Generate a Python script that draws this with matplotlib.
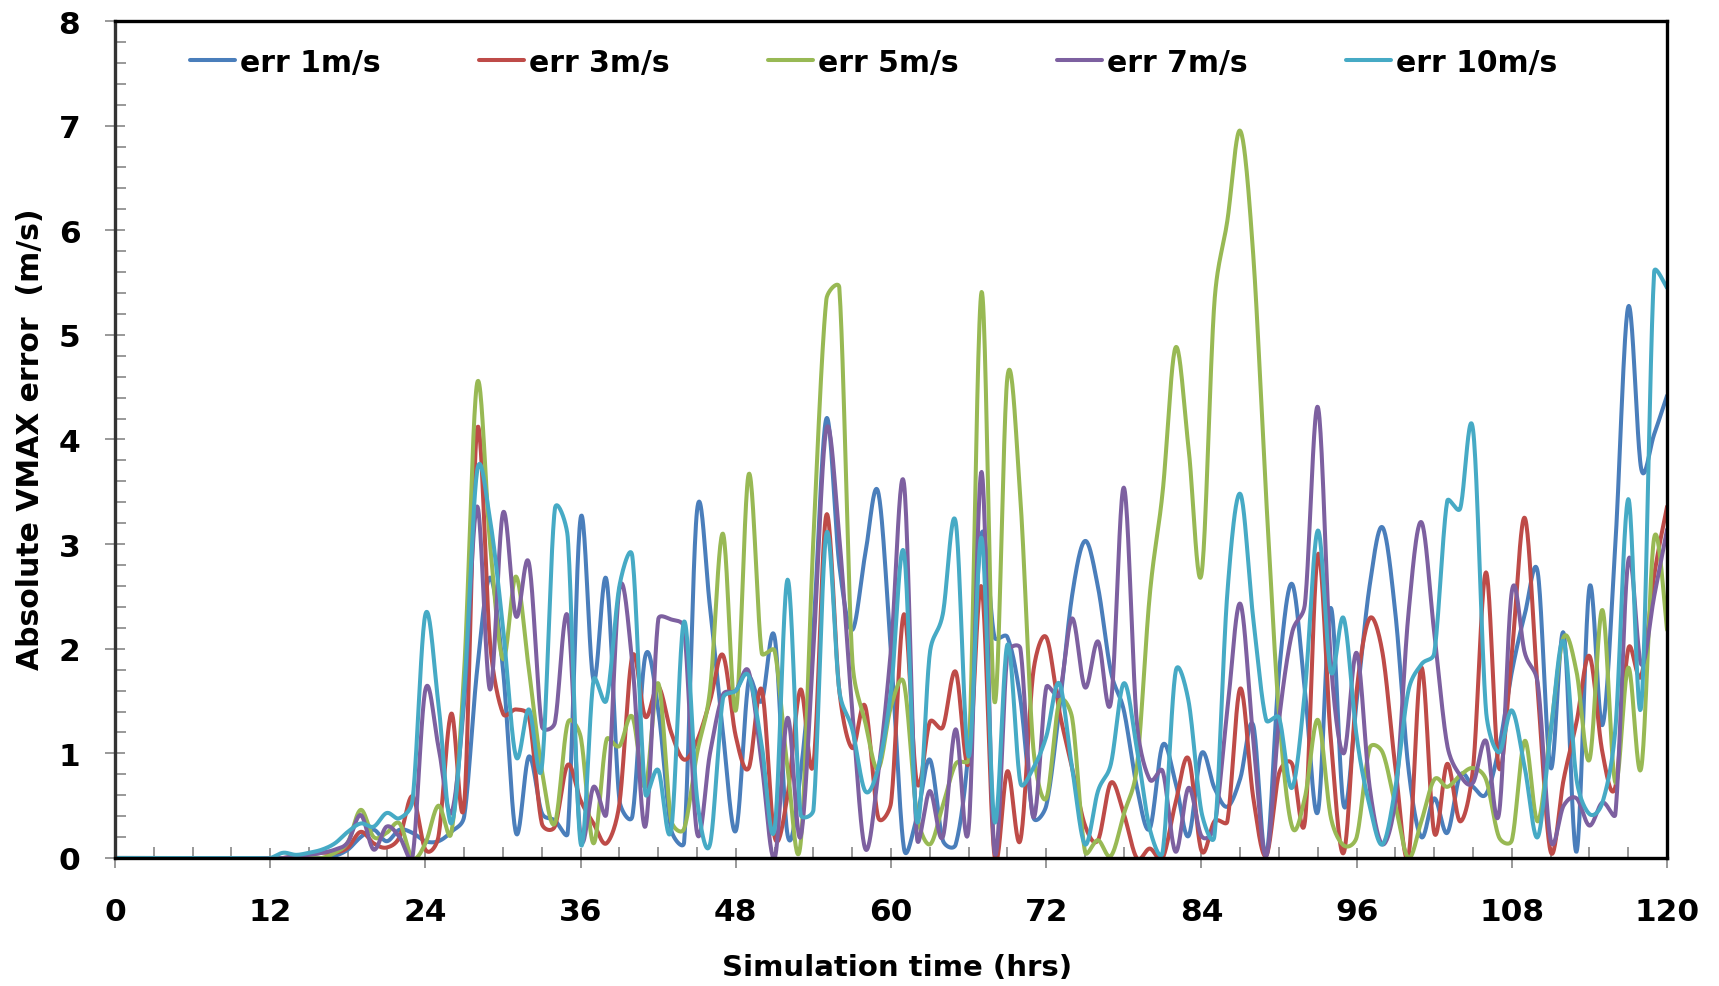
import matplotlib
matplotlib.use("Agg")
import matplotlib.pyplot as plt
import numpy as np
from matplotlib.ticker import MultipleLocator

plt.rcParams["font.family"] = ["DejaVu Sans"]
plt.rcParams["font.weight"] = "bold"

# simulation hours (x categories)
HOURS = np.arange(0, 121)

# absolute VMAX error (m/s), read hour by hour from the figure
ERR_1 = [
    0, 0, 0, 0, 0, 0, 0, 0, 0, 0,
    0, 0, 0, 0, 0, 0, 0, 0.02, 0.08, 0.2,
    0.27, 0.16, 0.27, 0.24, 0.16, 0.16, 0.25, 0.4, 1.8, 2.68,
    1.8, 0.24, 0.97, 0.43, 0.36, 0.24, 3.25, 1.7, 2.66, 0.55,
    0.4, 1.93, 1.42, 0.27, 0.15, 3.32, 2.4, 1.2, 0.26, 1.7,
    1.5, 2.11, 0.22, 0.8, 2.2, 4.2, 2.8, 2.18, 2.9, 3.5,
    1.96, 0.09, 0.39, 0.94, 0.17, 0.13, 1.05, 3.1, 2.11, 2.11,
    1.52, 0.39, 0.5, 1.41, 2.51, 3.03, 2.59, 1.78, 1.41, 0.68,
    0.28, 1.08, 0.72, 0.21, 1.0, 0.67, 0.49, 0.76, 1.27, 0.02,
    1.78, 2.62, 1.6, 0.44, 2.39, 0.5, 1.5, 2.6, 3.16, 2.33,
    0.86, 0.2, 0.57, 0.24, 0.79, 0.68, 0.61, 1.05, 1.78, 2.33,
    2.73, 0.86, 2.15, 0.06, 2.59, 1.27, 3.0, 5.27, 3.72, 4.05,
    4.42,
]
ERR_3 = [
    0, 0, 0, 0, 0, 0, 0, 0, 0, 0,
    0, 0, 0, 0, 0.02, 0.03, 0.05, 0.05, 0.1, 0.25,
    0.14, 0.1, 0.2, 0.59, 0.08, 0.2, 1.38, 0.52, 4.1, 2.05,
    1.38, 1.42, 1.35, 0.33, 0.3, 0.89, 0.55, 0.33, 0.14, 0.52,
    1.93, 1.35, 1.64, 1.2, 0.94, 1.12, 1.5, 1.94, 1.16, 0.86,
    1.61, 0.2, 0.6, 1.61, 0.9, 3.28, 1.6, 1.05, 1.45, 0.39,
    0.53, 2.33, 0.72, 1.3, 1.25, 1.78, 0.9, 2.59, 0.02, 0.83,
    0.17, 1.78, 2.11, 1.41, 0.86, 0.31, 0.17, 0.72, 0.42, 0.0,
    0.09, 0.0, 0.53, 0.95, 0.07, 0.35, 0.35, 1.62, 0.58, 0.02,
    0.81, 0.9, 0.35, 2.9, 1.14, 0.05, 1.6, 2.29, 1.96, 0.86,
    0.02, 1.82, 0.24, 0.9, 0.35, 0.86, 2.73, 0.86, 1.96, 3.25,
    1.6, 0.06, 0.75, 1.3, 1.93, 1.01, 0.68, 2.0, 1.74, 2.7,
    3.36,
]
ERR_5 = [
    0, 0, 0, 0, 0, 0, 0, 0, 0, 0,
    0, 0, 0, 0, 0, 0, 0, 0.05, 0.15, 0.46,
    0.2, 0.24, 0.33, 0.0, 0.14, 0.5, 0.24, 1.8, 4.54, 3.0,
    1.9, 2.69, 1.8, 0.84, 0.33, 1.29, 1.16, 0.14, 1.13, 1.07,
    1.35, 0.68, 1.67, 0.36, 0.28, 1.0, 1.6, 3.1, 1.41, 3.67,
    1.96, 1.98, 0.86, 0.13, 3.06, 5.34, 5.45, 1.9, 1.3, 0.85,
    1.45, 1.67, 0.42, 0.13, 0.5, 0.9, 0.94, 5.41, 1.49, 4.6,
    3.43, 1.05, 0.57, 1.49, 1.34, 0.06, 0.17, 0.02, 0.42, 0.86,
    2.51, 3.5, 4.88, 3.92, 2.71, 5.31, 6.09, 6.95, 5.77, 3.45,
    1.37, 0.3, 0.58, 1.32, 0.39, 0.12, 0.2, 1.05, 1.01, 0.5,
    0.0, 0.35, 0.75, 0.68, 0.79, 0.86, 0.75, 0.2, 0.17, 1.12,
    0.35, 1.23, 2.11, 1.78, 0.94, 2.37, 0.72, 1.82, 0.86, 3.06,
    2.18,
]
ERR_7 = [
    0, 0, 0, 0, 0, 0, 0, 0, 0, 0,
    0, 0, 0, 0, 0.02, 0.03, 0.05, 0.08, 0.15, 0.41,
    0.08, 0.3, 0.2, 0.01, 1.61, 1.07, 0.43, 1.5, 3.36, 1.61,
    3.3, 2.31, 2.82, 1.26, 1.29, 2.31, 0.2, 0.68, 0.43, 2.57,
    1.86, 0.3, 2.28, 2.28, 2.2, 0.24, 1.0, 1.56, 1.6, 1.78,
    0.9, 0.0, 1.34, 0.2, 2.0, 4.1, 3.06, 1.41, 0.09, 0.8,
    2.0, 3.58, 0.2, 0.64, 0.2, 1.23, 0.28, 3.69, 0.06, 1.96,
    2.0, 0.39, 1.63, 1.56, 2.29, 1.63, 2.07, 1.49, 3.54, 1.3,
    0.75, 0.83, 0.06, 0.67, 0.21, 0.3, 1.41, 2.43, 1.14, 0.02,
    1.32, 2.15, 2.43, 4.31, 1.88, 1.0, 1.96, 0.68, 0.13, 0.57,
    2.33, 3.21, 2.15, 1.08, 0.79, 0.72, 1.12, 0.42, 2.55, 1.96,
    1.67, 0.17, 0.5, 0.57, 0.31, 0.53, 0.42, 2.84, 1.85, 2.5,
    3.14,
]
ERR_10 = [
    0, 0, 0, 0, 0, 0, 0, 0, 0, 0,
    0, 0, 0, 0.05, 0.03, 0.05, 0.08, 0.14, 0.25, 0.33,
    0.3, 0.43, 0.38, 0.55, 2.33, 1.48, 0.33, 1.6, 3.7, 3.23,
    2.2, 0.97, 1.42, 0.87, 3.33, 3.07, 0.14, 1.7, 1.51, 2.6,
    2.88, 0.62, 0.84, 0.27, 2.26, 0.57, 0.13, 1.52, 1.6, 1.74,
    1.08, 0.28, 2.66, 0.42, 0.46, 3.1, 1.6, 1.23, 0.64, 0.86,
    1.6, 2.92, 0.35, 1.96, 2.33, 3.21, 0.97, 3.06, 0.35, 2.04,
    0.72, 0.86, 1.16, 1.67, 0.86, 0.13, 0.64, 0.9, 1.67, 1.05,
    0.28, 0.06, 1.78, 1.5, 0.44, 0.21, 2.53, 3.48, 2.29, 1.32,
    1.34, 0.67, 1.6, 3.13, 1.78, 2.29, 1.16, 0.5, 0.13, 0.68,
    1.6, 1.85, 1.96, 3.41, 3.34, 4.09, 1.41, 1.01, 1.41, 0.86,
    0.2, 1.2, 2.07, 0.75, 0.42, 0.53, 1.23, 3.43, 1.45, 5.6,
    5.45,
]

LABELS = ["err 1m/s", "err 3m/s", "err 5m/s", "err 7m/s", "err 10m/s"]
COLORS = ["#4a7ebb", "#be4b48", "#98b954", "#7d60a0", "#46aac5"]


def smooth(x, y, sx=12.95, sy=104.5, steps=24):
    # Excel-style smoothed line: Bezier segments with 1/6 tangents,
    # each control arm capped at half the segment length (in screen units)
    px = np.asarray(x, dtype=float) * sx
    py = np.asarray(y, dtype=float) * sy
    P = np.column_stack([px, py])
    Q = np.vstack([P[:1], P, P[-1:]])
    t = np.linspace(0, 1, steps, endpoint=False)[:, None]
    out = []
    for i in range(len(P) - 1):
        p0, p1 = P[i], P[i + 1]
        half = np.hypot(*(p1 - p0)) / 2
        a = (Q[i + 2] - Q[i]) / 6
        b = (Q[i + 3] - Q[i + 1]) / 6
        la, lb = np.hypot(*a), np.hypot(*b)
        if la > half:
            a = a * half / la
        if lb > half:
            b = b * half / lb
        c1, c2 = p0 + a, p1 - b
        seg = ((1 - t) ** 3) * p0 + 3 * t * (1 - t) ** 2 * c1 + 3 * t ** 2 * (1 - t) * c2 + t ** 3 * p1
        out.append(seg)
    out.append(P[-1:])
    out = np.vstack(out)
    return out[:, 0] / sx, out[:, 1] / sy


fig = plt.figure(figsize=(17.19, 9.87), dpi=100)
ax = fig.add_axes([0.0669, 0.1297, 0.9029, 0.848])

for vals, lab, col in zip([ERR_1, ERR_3, ERR_5, ERR_7, ERR_10], LABELS, COLORS):
    sx, sy = smooth(HOURS, vals)
    ax.plot(sx, sy, color=col, lw=2.9, label=lab, solid_capstyle="round")

ax.set_xlim(0, 120)
ax.set_ylim(0, 8)
ax.xaxis.set_major_locator(MultipleLocator(12))
ax.xaxis.set_minor_locator(MultipleLocator(3))
ax.yaxis.set_major_locator(MultipleLocator(1))
ax.yaxis.set_minor_locator(MultipleLocator(0.2))

ax.tick_params(axis="both", which="major", direction="inout", length=14,
               width=1.2, color="#888888", labelsize=22.5)
ax.tick_params(axis="both", which="minor", direction="in", length=8,
               width=1.2, color="#888888")
ax.tick_params(axis="x", which="major", pad=21)
ax.tick_params(axis="y", which="major", pad=18)

for side in ("top", "right", "bottom"):
    ax.spines[side].set_color("black")
    ax.spines[side].set_linewidth(2.4)
ax.spines["left"].set_color("#333333")
ax.spines["left"].set_linewidth(2.4)

fig.text(0.5218, 0.019, "Simulation time (hrs)", ha="center", va="center",
         fontsize=21, fontweight="bold")
fig.text(0.0175, 0.555, "Absolute VMAX error  (m/s)", ha="center", va="center",
         rotation=90, fontsize=21.5, fontweight="bold")

ax.legend(loc="center left", bbox_to_anchor=(0.1105, 0.936),
          bbox_transform=fig.transFigure, ncol=5, frameon=False,
          fontsize=21.5, handlelength=1.5, handletextpad=0.17,
          columnspacing=3.3, borderpad=0, borderaxespad=0)

fig.savefig("out.png", dpi=100)
